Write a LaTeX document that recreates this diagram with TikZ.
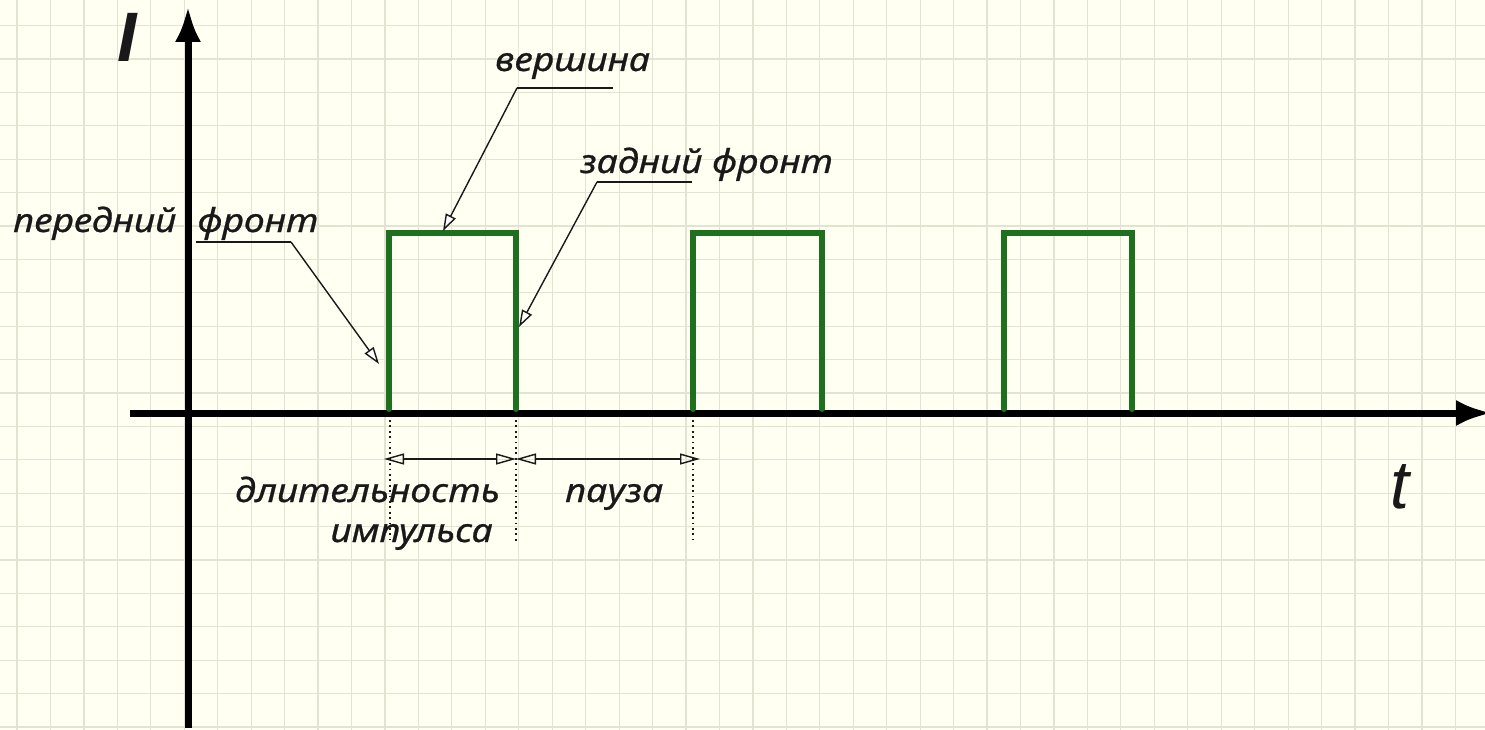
\documentclass[tikz,border=0pt]{standalone}
\usepackage{fontspec}
\setmainfont{Noto Sans}[FakeStretch=1.13,FakeBold=0.8]
\newfontfamily\axisfont{Liberation Sans}
\usetikzlibrary{arrows.meta}
\definecolor{paper}{RGB}{255,255,242}
\definecolor{gridline}{RGB}{226,228,210}
\definecolor{pulse}{RGB}{30,112,30}
\definecolor{ink}{RGB}{25,25,25}
\begin{document}
\begin{tikzpicture}[x=1pt,y=-1pt,
  lbl/.style={font=\fontsize{33}{38}\selectfont\itshape, inner sep=0pt, text=ink},
  axisline/.style={line width=7pt, -{Latex[length=36pt,width=26pt]}},
  pulseline/.style={draw=pulse, line width=6pt, line cap=round, line join=miter},
  leader/.style={line width=1.6pt, draw=ink},
  callout/.style={line width=1.4pt, draw=ink, -{Triangle[length=17pt,width=11pt,fill=white,line width=1.4pt]}},
  guide/.style={line width=1.8pt, draw=ink, dash pattern=on 1.8pt off 3.6pt},
  span/.style={line width=1.4pt, draw=ink, {Triangle[open,length=20pt,width=11pt]}-{Triangle[open,length=20pt,width=11pt]}}
]
% paper and squared grid
\fill[paper] (0,0) rectangle (1485,730);
\useasboundingbox (0,0) rectangle (1485,730);
\foreach \gx in {0,...,44}
  \draw[gridline, line width=1.2pt] ({17+33.45*\gx},0) -- ({17+33.45*\gx},730);
\foreach \gy in {0,...,22}
  \draw[gridline, line width=1.2pt] (0,{-7.8+33.4*\gy}) -- (1485,{-7.8+33.4*\gy});

% axes
\coordinate (ybot) at (188,728);
\coordinate (ytop) at (188,6);
\coordinate (xleft) at (130,413);
\coordinate (xright) at (1492,413);
\draw[axisline] (ybot) -- (ytop);
\draw[axisline] (xleft) -- (xright);
\node[font=\axisfont\fontsize{70}{70}\selectfont\bfseries\itshape, inner sep=0pt, text=ink] (ilabel) at (127,37) {I};
\node[font=\axisfont\fontsize{68}{70}\selectfont\itshape, inner sep=0pt, anchor=base, text=ink] (tlabel) at (1400,508) {t};

% pulse train
\foreach \a/\b in {389/516, 693/822, 1004/1132}
  \draw[pulseline] (\a,409) -- (\a,233) -- (\b,233) -- (\b,409);

% leading edge
\node[lbl, anchor=base west] (lead) at (13,232) {передний\hspace{0.35em} фронт};
\coordinate (leadA) at (196,242);
\coordinate (leadB) at (291,242);
\coordinate (leadTip) at (379,364);
\draw[leader] (leadA) -- (leadB);
\draw[callout] (leadB) -- (leadTip);

% top
\node[lbl, anchor=base west] (top) at (495,71) {вершина};
\coordinate (topA) at (517,88);
\coordinate (topB) at (613,88);
\coordinate (topTip) at (443,231);
\draw[leader] (topA) -- (topB);
\draw[callout] (topA) -- (topTip);

% trailing edge
\node[lbl, anchor=base west] (trail) at (580,173) {задний фронт};
\coordinate (trailA) at (597,182);
\coordinate (trailB) at (692,182);
\coordinate (trailTip) at (519,327);
\draw[leader] (trailA) -- (trailB);
\draw[callout] (trailA) -- (trailTip);

% duration and pause
\coordinate (g1a) at (390,420); \coordinate (g1b) at (390,540);
\coordinate (g2a) at (516,420); \coordinate (g2b) at (516,543);
\coordinate (g3a) at (693,420); \coordinate (g3b) at (693,540);
\draw[guide] (g1a) -- (g1b);
\draw[guide] (g2a) -- (g2b);
\draw[guide] (g3a) -- (g3b);
\coordinate (d1) at (384,459);
\coordinate (d2) at (516,459);
\coordinate (d3) at (700,459);
\draw[span] (d1) -- (d2);
\draw[span] (d2) -- (d3);
\node[lbl, anchor=base east] (dur1) at (500,502) {длительность};
\node[lbl, anchor=base east] (dur2) at (493,542) {импульса};
\node[lbl, anchor=base west] (pause) at (565,502) {пауза};
\end{tikzpicture}
\end{document}
